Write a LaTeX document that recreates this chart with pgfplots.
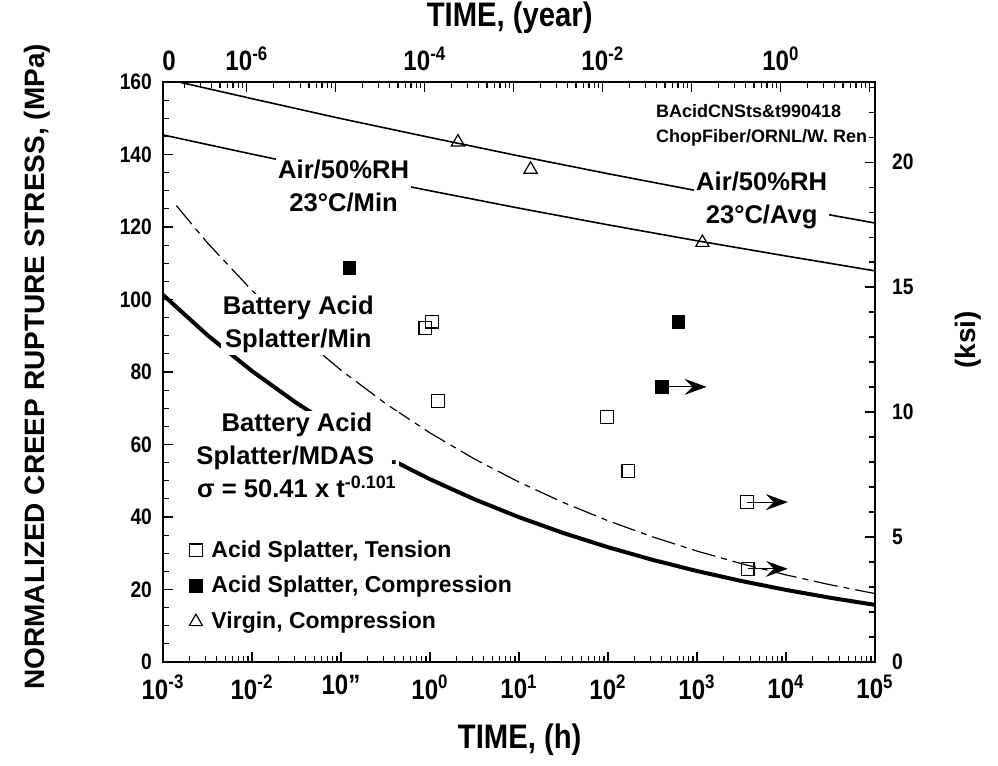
\documentclass[border=0pt]{standalone}
\usepackage{fontspec}
\setmainfont{Liberation Sans}
\newfontfamily\narrowfont[FakeStretch=0.86]{Liberation Sans}
\usepackage{pgfplots}
\pgfplotsset{compat=1.18}
\usetikzlibrary{arrows.meta}

\newcommand{\dec}[1]{10\textsuperscript{#1}}
\newcommand{\numfont}{\narrowfont\bfseries\fontsize{11.2}{13}\selectfont}
\newcommand{\decfont}{\narrowfont\bfseries\fontsize{14}{16}\selectfont}
\newcommand{\titlefont}{\narrowfont\bfseries\fontsize{17}{20}\selectfont}
\newcommand{\notefont}{\bfseries\fontsize{12.8}{16.5}\selectfont}

\begin{document}
\begin{tikzpicture}[x=1pt,y=1pt]
\useasboundingbox (-81.5,-52) rectangle (417.5,331);

% ---------------- main axis: time in hours, stress in MPa ----------------
\begin{axis}[
  at={(0,0)}, anchor=south west,
  scale only axis, width=356pt, height=290pt,
  xmode=log, log basis x=10,
  xmin=1e-3, xmax=1e5, ymin=0, ymax=160,
  tick pos=left, tick align=inside,
  /pgf/number format/assume math mode=true,
  xtick={1e-3,1e-2,0.1,1,10,100,1000,1e4,1e5},
  xticklabels={\dec{-3},\dec{-2},10”,\dec{0},\dec{1},\dec{2},\dec{3},\dec{4},\dec{5}},
  minor xtick={2e-3,3e-3,4e-3,5e-3,6e-3,7e-3,8e-3,9e-3,
               0.02,0.03,0.04,0.05,0.06,0.07,0.08,0.09,
               0.2,0.3,0.4,0.5,0.6,0.7,0.8,0.9,
               2,3,4,5,6,7,8,9,
               20,30,40,50,60,70,80,90,
               200,300,400,500,600,700,800,900,
               2000,3000,4000,5000,6000,7000,8000,9000,
               2e4,3e4,4e4,5e4,6e4,7e4,8e4,9e4},
  ytick={0,20,...,160}, minor y tick num=3,
  major tick length=5pt, minor tick length=3pt,
  every tick/.style={black, line width=0.6pt},
  axis line style={line width=1.2pt},
  xticklabel style={font=\decfont, yshift=-3pt},
  yticklabel style={font=\numfont, xshift=-2pt},
  xlabel={TIME, (h)},
  xlabel style={at={(axis description cs:0.501,-0.134)}, anchor=center, font=\titlefont},
  ylabel={NORMALIZED CREEP RUPTURE STRESS, (MPa)},
  ylabel style={at={(axis description cs:-0.177,0.509)}, anchor=center,
                font=\bfseries\fontsize{14}{16}\selectfont},
  legend style={at={(0.028,0.222)}, anchor=north west, draw=none, fill=none,
                font=\bfseries\fontsize{11.5}{13}\selectfont, row sep=5pt,
                nodes={inner sep=1.5pt}},
  legend cell align=left,
]

% Air / 50%RH, 23 C, average curve
\addplot[black, line width=0.8pt, forget plot] coordinates {
  (1e-3,161.0) (1e-2,155.4) (0.1,149.9) (1,144.7) (10,139.6)
  (100,134.7) (1000,130.0) (1e4,125.5) (1e5,121.1)};
% Air / 50%RH, 23 C, minimum curve
\addplot[black, line width=0.8pt, forget plot] coordinates {
  (1e-3,145.4) (1e-2,140.1) (0.1,134.9) (1,130.0) (10,125.2)
  (100,120.6) (1000,116.2) (1e4,112.0) (1e5,107.9)};
% Battery acid splatter, minimum curve
\addplot[black, line width=0.6pt, forget plot,
         dash pattern=on 12pt off 3pt on 3pt off 3pt] coordinates {
  (1.413e-3,125.9) (3.162e-3,115.6) (1e-2,102.5) (3.162e-2,90.8) (0.1,80.5)
  (0.3162,71.3) (1,63.2) (3.162,56.0) (10,49.63) (31.62,43.98) (100,38.97)
  (316.2,34.53) (1000,30.60) (3162,27.12) (1e4,24.03) (31620,21.29) (1e5,18.87)};
% Battery acid splatter, MDAS curve: 50.41 t^-0.101
\addplot[black, line width=2pt, forget plot] coordinates {
  (1e-3,101.28) (3.162e-3,90.16) (1e-2,80.26) (3.162e-2,71.45) (0.1,63.61)
  (0.3162,56.63) (1,50.41) (3.162,44.88) (10,39.95) (31.62,35.57) (100,31.66)
  (316.2,28.19) (1000,25.09) (3162,22.34) (1e4,19.89) (31620,17.71) (1e5,15.76)};

% run-outs (tests still running)
\addplot[black, line width=0.6pt, forget plot,
         -{Stealth[length=11pt,width=8pt,inset=4pt]}] coordinates {(407,75.9) (1280,75.9)};
\addplot[black, line width=0.6pt, forget plot,
         -{Stealth[length=11pt,width=8pt,inset=4pt]}] coordinates {(3630,44.1) (10500,44.1)};
\addplot[black, line width=0.6pt, forget plot,
         -{Stealth[length=11pt,width=8pt,inset=4pt]}] coordinates {(3700,25.7) (10500,25.7)};

% test data
\addplot[only marks, mark=square, mark size=3.2pt,
         mark options={black, fill=white, line width=0.6pt}] coordinates {
  (0.89,92.1) (1.06,93.9) (1.23,72.0) (98,67.6) (170,52.7) (3630,44.1) (3700,25.7)};
\addlegendentry{\hspace{3pt}Acid Splatter, Tension}
\addplot[only marks, mark=square*, mark size=3.2pt,
         mark options={black, fill=black}] coordinates {
  (0.124,108.8) (617,93.8) (407,75.9)};
\addlegendentry{\hspace{3pt}Acid Splatter, Compression}
\addplot[only marks, mark=triangle, mark size=3.8pt,
         mark options={black, fill=white, line width=0.6pt}] coordinates {
  (2.06,143.4) (13.5,135.9) (1150,115.7)};
\addlegendentry{\hspace{3pt}Virgin, Compression}

% curve labels
\node[fill=white, inner sep=1pt, align=center, font=\notefont]
  at (axis cs:5330,127.4) {Air/50\%RH\\23°C/Avg};
\node[fill=white, inner sep=1pt, align=center, font=\notefont]
  at (axis cs:0.107,131.3) {Air/50\%RH\\23°C/Min};
\node[fill=white, inner sep=1pt, align=center, font=\notefont]
  at (axis cs:0.0332,93.0) {Battery Acid\\Splatter/Min};
\node[fill=white, inner sep=1pt, align=center, font=\notefont]
  at (axis cs:0.0320,57.1) {Battery Acid\\Splatter/MDAS\hspace{8pt}.\\σ = 50.41 x t\textsuperscript{-0.101}};
\node[anchor=north west, align=left, inner sep=0pt,
      font=\bfseries\fontsize{9}{12.5}\selectfont]
  at (rel axis cs:0.692,0.962) {BAcidCNSts\&t990418\\ChopFiber/ORNL/W. Ren};
\end{axis}

% ---------------- secondary scales: time in years, stress in ksi ----------------
\begin{axis}[
  at={(0,0)}, anchor=south west,
  scale only axis, width=356pt, height=290pt,
  xmode=log, log basis x=10,
  xmin=1.14155e-7, xmax=11.4155, ymin=0, ymax=23.206,
  axis x line*=top, axis y line*=right,
  tick align=inside,
  /pgf/number format/assume math mode=true,
  xtick={1e-6,1e-5,1e-4,1e-3,1e-2,0.1,1,10},
  xticklabels={\dec{-6},,\dec{-4},,\dec{-2},,\dec{0},},
  extra x ticks={1.14155e-7}, extra x tick labels={0},
  extra x tick style={major tick length=0pt, xticklabel style={xshift=3pt}},
  minor xtick={2e-7,3e-7,4e-7,5e-7,6e-7,7e-7,8e-7,9e-7,
               2e-6,3e-6,4e-6,5e-6,6e-6,7e-6,8e-6,9e-6,
               2e-5,3e-5,4e-5,5e-5,6e-5,7e-5,8e-5,9e-5,
               2e-4,3e-4,4e-4,5e-4,6e-4,7e-4,8e-4,9e-4,
               2e-3,3e-3,4e-3,5e-3,6e-3,7e-3,8e-3,9e-3,
               0.02,0.03,0.04,0.05,0.06,0.07,0.08,0.09,
               0.2,0.3,0.4,0.5,0.6,0.7,0.8,0.9,
               2,3,4,5,6,7,8,9},
  ytick={0,5,10,15,20}, minor ytick={1,2,3,4,6,7,8,9,11,12,13,14,16,17,18,19,21,22,23},
  major tick length=5pt, minor tick length=3pt,
  every tick/.style={black, line width=0.6pt},
  axis line style={line width=1pt},
  xticklabel style={font=\decfont, yshift=2pt},
  yticklabel style={font=\numfont, xshift=5pt},
  xlabel={TIME, (year)},
  xlabel style={at={(axis description cs:0.487,1.110)}, anchor=center, font=\titlefont},
  ylabel={(ksi)},
  ylabel style={at={(axis description cs:1.131,0.555)}, anchor=center,
                font=\bfseries\fontsize{14}{16}\selectfont},
]
\end{axis}
\end{tikzpicture}
\end{document}
